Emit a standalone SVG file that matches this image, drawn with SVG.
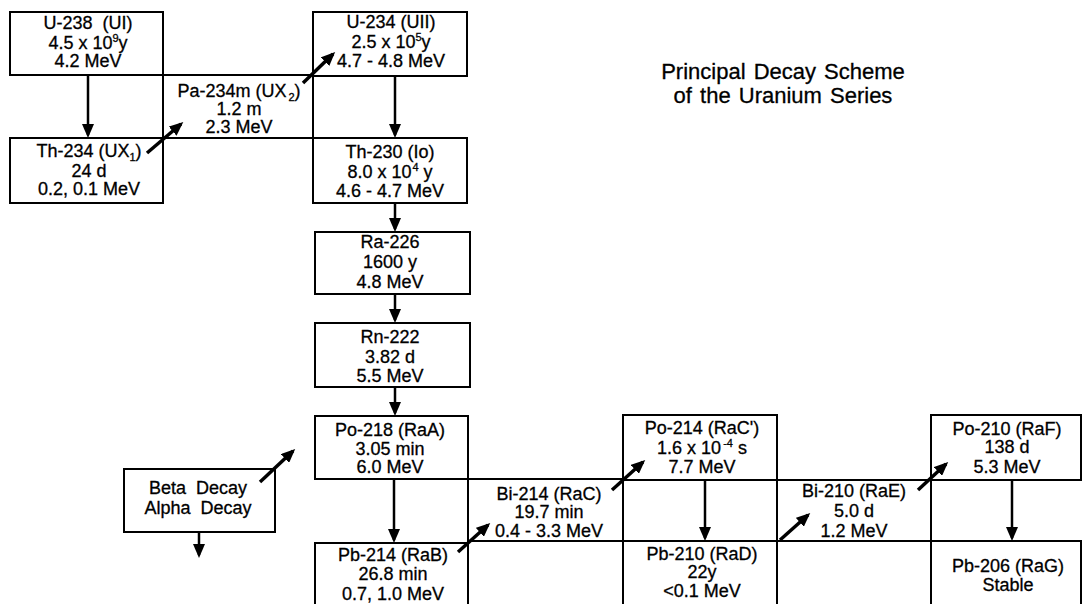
<svg xmlns="http://www.w3.org/2000/svg" width="1082" height="604" viewBox="0 0 1082 604">
<style>
.box{fill:none;stroke:#000;stroke-width:2}
.t{font-family:"Liberation Sans",Arial,Helvetica,sans-serif;font-size:18px;text-anchor:middle;fill:#000;stroke:#000;stroke-width:0.3}
.title{font-family:"Liberation Sans",Arial,Helvetica,sans-serif;font-size:22px;text-anchor:middle;fill:#000;stroke:#000;stroke-width:0.3;word-spacing:2px}
.a{stroke:#000;stroke-width:2.5;fill:none;marker-end:url(#ah)}
.b{stroke:#000;stroke-width:3.5;fill:none;marker-end:url(#ah)}
</style>
<defs>
<marker id="ah" markerUnits="userSpaceOnUse" markerWidth="14" markerHeight="12" viewBox="0 0 14 12" refX="11" refY="6" orient="auto">
<path d="M0,0 L14,6 L0,12 z" fill="#000"/>
</marker>
</defs>
<rect x="0" y="0" width="1082" height="604" fill="#fff"/>

<g id="title">
<text class="title" x="783" y="79">Principal Decay Scheme</text>
<text class="title" x="783" y="103">of the Uranium Series</text>
</g>

<g id="u238">
<rect class="box" x="10" y="12" width="153" height="63"/>
<text class="t" x="88" y="29" xml:space="preserve">U-238  (UI)</text>
<text class="t" x="88" y="49">4.5 x 10<tspan font-size="11" dy="-7">9</tspan><tspan dy="7">y</tspan></text>
<text class="t" x="88" y="67">4.2 MeV</text>
</g>

<g id="pa234m">
<rect class="box" x="163" y="75" width="150" height="63"/>
<text class="t" x="239" y="97">Pa-234m (UX<tspan font-size="11" dx="2" dy="4">2</tspan><tspan dy="-4">)</tspan></text>
<text class="t" x="239" y="115">1.2 m</text>
<text class="t" x="239" y="133">2.3 MeV</text>
</g>

<g id="th234">
<rect class="box" x="10" y="138" width="153" height="65"/>
<text class="t" x="89" y="157">Th-234 (UX<tspan font-size="11" dy="4">1</tspan><tspan dy="-4">)</tspan></text>
<text class="t" x="89" y="177">24 d</text>
<text class="t" x="89" y="195">0.2, 0.1 MeV</text>
</g>

<g id="u234">
<rect class="box" x="313" y="12" width="154" height="64"/>
<text class="t" x="391" y="28">U-234 (UII)</text>
<text class="t" x="391" y="48">2.5 x 10<tspan font-size="11" dy="-7">5</tspan><tspan dy="7">y</tspan></text>
<text class="t" x="391" y="67">4.7 - 4.8 MeV</text>
</g>

<g id="th230">
<rect class="box" x="313" y="138" width="154" height="65"/>
<text class="t" x="390" y="158">Th-230 (Io)</text>
<text class="t" x="390" y="178">8.0 x 10<tspan font-size="11" dx="1" dy="-7">4</tspan><tspan dy="7"> y</tspan></text>
<text class="t" x="390" y="197">4.6 - 4.7 MeV</text>
</g>

<g id="ra226">
<rect class="box" x="315" y="232" width="155" height="62"/>
<text class="t" x="390" y="248">Ra-226</text>
<text class="t" x="390" y="268">1600 y</text>
<text class="t" x="390" y="288">4.8 MeV</text>
</g>

<g id="rn222">
<rect class="box" x="315" y="323" width="155" height="64"/>
<text class="t" x="390" y="343">Rn-222</text>
<text class="t" x="390" y="363">3.82 d</text>
<text class="t" x="390" y="382">5.5 MeV</text>
</g>

<g id="po218">
<rect class="box" x="315" y="416" width="153" height="63"/>
<text class="t" x="390" y="436">Po-218 (RaA)</text>
<text class="t" x="390" y="455">3.05 min</text>
<text class="t" x="390" y="473">6.0 MeV</text>
</g>

<g id="pb214">
<rect class="box" x="315" y="543" width="153" height="70"/>
<text class="t" x="393" y="561">Pb-214 (RaB)</text>
<text class="t" x="393" y="580">26.8 min</text>
<text class="t" x="393" y="600">0.7, 1.0 MeV</text>
</g>

<g id="bi214">
<rect class="box" x="468" y="479" width="155" height="62"/>
<text class="t" x="549" y="500">Bi-214 (RaC)</text>
<text class="t" x="549" y="518">19.7 min</text>
<text class="t" x="549" y="537">0.4 - 3.3 MeV</text>
</g>

<g id="po214">
<rect class="box" x="623" y="415" width="154" height="65"/>
<text class="t" x="702" y="434">Po-214 (RaC')</text>
<text class="t" x="702" y="454">1.6 x 10<tspan font-size="11" dx="2" dy="-7">-4</tspan><tspan dy="7"> s</tspan></text>
<text class="t" x="702" y="473">7.7 MeV</text>
</g>

<g id="pb210">
<rect class="box" x="623" y="541" width="154" height="72"/>
<text class="t" x="702" y="560">Pb-210 (RaD)</text>
<text class="t" x="702" y="578">22y</text>
<text class="t" x="702" y="597">&lt;0.1 MeV</text>
</g>

<g id="bi210">
<rect class="box" x="777" y="480" width="154" height="61"/>
<text class="t" x="854" y="497">Bi-210 (RaE)</text>
<text class="t" x="854" y="517">5.0 d</text>
<text class="t" x="854" y="537">1.2 MeV</text>
</g>

<g id="po210">
<rect class="box" x="931" y="415" width="150" height="65"/>
<text class="t" x="1007" y="435">Po-210 (RaF)</text>
<text class="t" x="1007" y="453">138 d</text>
<text class="t" x="1007" y="473">5.3 MeV</text>
</g>

<g id="pb206">
<rect class="box" x="931" y="541" width="150" height="72"/>
<text class="t" x="1008" y="572">Pb-206 (RaG)</text>
<text class="t" x="1008" y="591">Stable</text>
</g>

<g id="legend">
<rect class="box" x="124" y="469" width="151" height="63"/>
<text class="t" x="198" y="494" xml:space="preserve">Beta  Decay</text>
<text class="t" x="198" y="514" xml:space="preserve">Alpha  Decay</text>
</g>

<g id="connectors">
<line class="a" x1="88" y1="75" x2="88" y2="135"/>
<line class="a" x1="395" y1="76" x2="395" y2="135"/>
<line class="a" x1="395" y1="203" x2="395" y2="229"/>
<line class="a" x1="395" y1="294" x2="395" y2="320"/>
<line class="a" x1="395" y1="387" x2="395" y2="413"/>
<line class="a" x1="394" y1="479" x2="394" y2="540"/>
<line class="a" x1="705" y1="480" x2="705" y2="538"/>
<line class="a" x1="1012" y1="480" x2="1012" y2="538"/>
<line class="a" x1="199" y1="532" x2="199" y2="555"/>
<line class="b" x1="147" y1="153" x2="181" y2="124"/>
<line class="b" x1="303" y1="83" x2="333" y2="54"/>
<line class="b" x1="260" y1="482" x2="293" y2="451"/>
<line class="b" x1="458" y1="552" x2="488" y2="525"/>
<line class="b" x1="612" y1="490" x2="643" y2="462"/>
<line class="b" x1="780" y1="540" x2="808" y2="515"/>
<line class="b" x1="918" y1="490" x2="946" y2="464"/>
</g>
</svg>
